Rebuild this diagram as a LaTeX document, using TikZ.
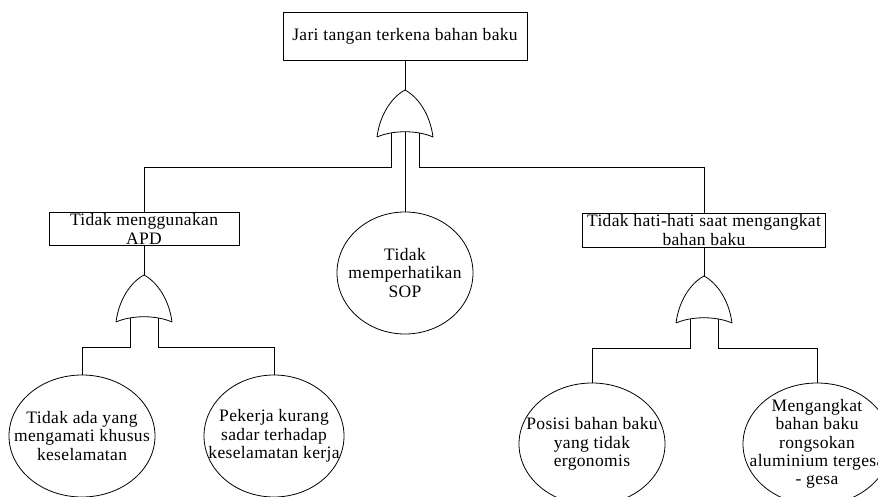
\documentclass[tikz,border=0pt]{standalone}
\usepackage{fontspec}
\setmainfont{Liberation Serif}
\usepackage{tikz}
\usetikzlibrary{shapes.geometric}
\newcommand{\orgate}[2]{%
  \begin{scope}[shift={(#2)}]
    \draw[gatestyle] (-28,47) .. controls (-25,24) and (-13,7) .. (0,0)
      .. controls (13,7) and (25,24) .. (28,47)
      .. controls (12,40) and (-12,40) .. (-28,47);
    \coordinate (#1) at (0,0);
    \coordinate (#1-l) at (-14,43);
    \coordinate (#1-m) at (0,42);
    \coordinate (#1-r) at (14,43);
  \end{scope}}

\begin{document}
\begin{tikzpicture}[x=1pt,y=-1pt,
    evt/.style={draw,rectangle,align=center,inner sep=1pt,line width=0.8pt},
    basic/.style={draw,ellipse,inner sep=0pt,line width=0.8pt,
      minimum width=146pt,minimum height=122pt,
      label={[align=center,inner sep=0pt]center:#1}},
    gatestyle/.style={line width=0.8pt,line join=round},
    wire/.style={line width=0.8pt},
    font=\fontsize{17.5}{18.3}\selectfont\addfontfeatures{LetterSpace=2}]
    \useasboundingbox (0,0) rectangle (878,497);
    \node[evt,minimum width=244pt,minimum height=48pt] (top) at (405,36) {Jari tangan terkena bahan baku};
    \node[evt,minimum width=190pt,minimum height=32pt] (apd) at (144,229) {Tidak menggunakan\\APD};
    \node[evt,minimum width=243pt,minimum height=34pt] (hati) at (704,230) {Tidak hati-hati saat mengangkat\\bahan baku};
    \node[basic={Tidak\\memperhatikan\\SOP},minimum width=136pt] (sop) at (405,273) {};
    \node[basic={Tidak ada yang\\mengamati khusus\\keselamatan}] (amati) at (82,436) {};
    \node[basic={Pekerja kurang\\sadar terhadap\\keselamatan kerja},minimum width=140pt] (sadar) at (274,436) {};
    \node[basic={Posisi bahan baku\\yang tidak\\ergonomis}] (posisi) at (592,444) {};
    \node[basic={Mengangkat\\bahan baku\\rongsokan\\aluminium tergesa\\- gesa},minimum width=148pt] (angkat) at (817,444) {};
    \orgate{g0}{405,90}
    \orgate{g1}{144,275}
    \orgate{g2}{704,276}
    % top event
    \draw[wire] (top) -- (g0);
    \draw[wire] (g0-l) -- ++(0,34) -| (apd);
    \draw[wire] (g0-r) -- ++(0,34) -| (hati);
    \draw[wire] (g0-m) -- (sop.north);
    % left branch
    \draw[wire] (apd) -- (g1);
    \draw[wire] (g1-l) -- ++(0,29) -| (amati);
    \draw[wire] (g1-r) -- ++(0,29) -| (sadar);
    % right branch
    \draw[wire] (hati) -- (g2);
    \draw[wire] (g2-l) -- ++(0,29) -| (posisi);
    \draw[wire] (g2-r) -- ++(0,29) -| (angkat);
\end{tikzpicture}
\end{document}
